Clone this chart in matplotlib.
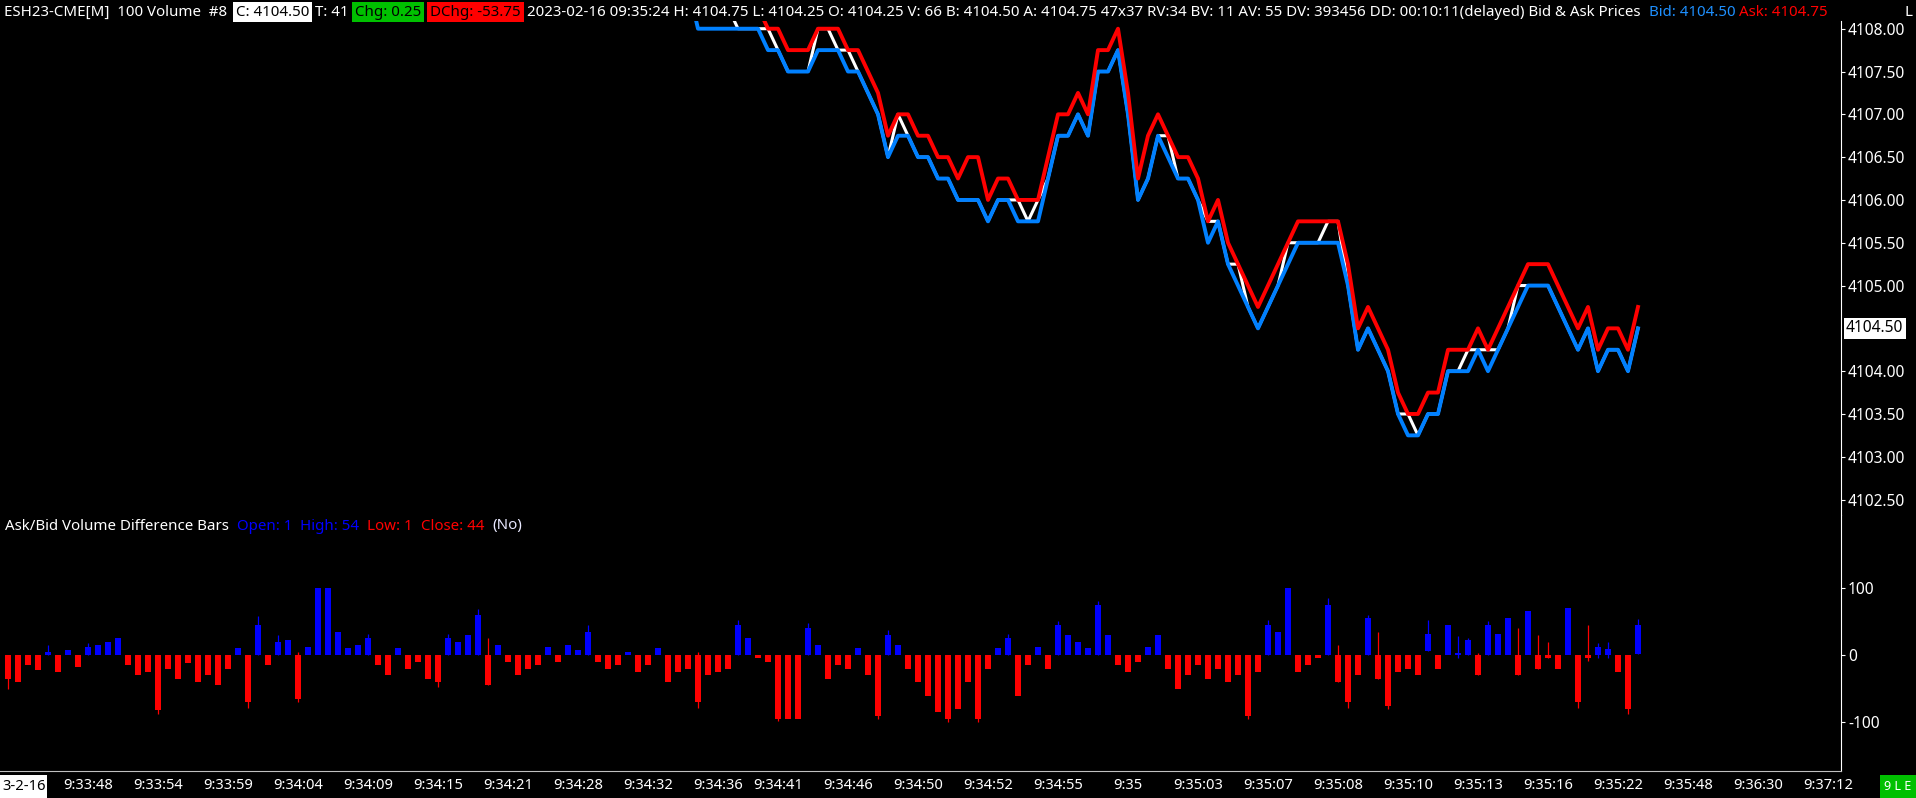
import matplotlib
matplotlib.use('Agg')
import matplotlib.pyplot as plt
from matplotlib.patches import Rectangle

W, H = 1916, 798
FONT = ['Noto Sans', 'DejaVu Sans']
BLUE_LINE = '#0080FF'

# ---------------- bid / ask / last (bars 68..163) ----------------
first_bar = 68
bid = [4108.50,
       4108.00, 4108.00, 4108.00, 4108.00, 4108.00, 4108.00, 4108.00,
       4107.75, 4107.75, 4107.50, 4107.50, 4107.50, 4107.75, 4107.75, 4107.75,
       4107.50, 4107.50, 4107.25, 4107.00, 4106.50, 4106.75, 4106.75, 4106.50,
       4106.50, 4106.25, 4106.25, 4106.00, 4106.00, 4106.00, 4105.75, 4106.00,
       4106.00, 4105.75, 4105.75, 4105.75, 4106.25, 4106.75, 4106.75, 4107.00,
       4106.75, 4107.50, 4107.50, 4107.75, 4107.00, 4106.00, 4106.25, 4106.75,
       4106.50, 4106.25, 4106.25, 4106.00, 4105.50, 4105.75, 4105.25, 4105.00,
       4104.75, 4104.50, 4104.75, 4105.00, 4105.25, 4105.50, 4105.50, 4105.50,
       4105.50, 4105.50, 4105.00, 4104.25, 4104.50, 4104.25, 4104.00, 4103.50,
       4103.25, 4103.25, 4103.50, 4103.50, 4104.00, 4104.00, 4104.00, 4104.25,
       4104.00, 4104.25, 4104.50, 4104.75, 4105.00, 4105.00, 4105.00, 4104.75,
       4104.50, 4104.25, 4104.50, 4104.00, 4104.25, 4104.25, 4104.00, 4104.50]
ask = [4108.75,
       4108.25, 4108.25, 4108.25, 4108.25, 4108.25, 4108.25, 4108.25,
       4108.00, 4108.00, 4107.75, 4107.75, 4107.75, 4108.00, 4108.00, 4108.00,
       4107.75, 4107.75, 4107.50, 4107.25, 4106.75, 4107.00, 4107.00, 4106.75,
       4106.75, 4106.50, 4106.50, 4106.25, 4106.50, 4106.50, 4106.00, 4106.25,
       4106.25, 4106.00, 4106.00, 4106.00, 4106.50, 4107.00, 4107.00, 4107.25,
       4107.00, 4107.75, 4107.75, 4108.00, 4107.25, 4106.25, 4106.75, 4107.00,
       4106.75, 4106.50, 4106.50, 4106.25, 4105.75, 4106.00, 4105.50, 4105.25,
       4105.00, 4104.75, 4105.00, 4105.25, 4105.50, 4105.75, 4105.75, 4105.75,
       4105.75, 4105.75, 4105.25, 4104.50, 4104.75, 4104.50, 4104.25, 4103.75,
       4103.50, 4103.50, 4103.75, 4103.75, 4104.25, 4104.25, 4104.25, 4104.50,
       4104.25, 4104.50, 4104.75, 4105.00, 4105.25, 4105.25, 4105.25, 4105.00,
       4104.75, 4104.50, 4104.75, 4104.25, 4104.50, 4104.50, 4104.25, 4104.75]
last = [4108.50,
        4108.25, 4108.25, 4108.25, 4108.25, 4108.00, 4108.00, 4108.00,
        4108.00, 4107.75, 4107.50, 4107.50, 4107.50, 4108.00, 4108.00, 4107.75,
        4107.75, 4107.50, 4107.25, 4107.00, 4106.50, 4107.00, 4106.75, 4106.50,
        4106.50, 4106.25, 4106.25, 4106.00, 4106.00, 4106.00, 4105.75, 4106.00,
        4106.00, 4106.00, 4105.75, 4106.00, 4106.25, 4106.75, 4106.75, 4107.00,
        4106.75, 4107.50, 4107.50, 4107.75, 4107.00, 4106.00, 4106.25, 4106.75,
        4106.75, 4106.25, 4106.25, 4106.00, 4105.75, 4105.75, 4105.25, 4105.25,
        4104.75, 4104.50, 4104.75, 4105.00, 4105.50, 4105.50, 4105.50, 4105.50,
        4105.75, 4105.75, 4105.00, 4104.25, 4104.50, 4104.25, 4104.00, 4103.50,
        4103.50, 4103.25, 4103.50, 4103.50, 4104.00, 4104.00, 4104.25, 4104.25,
        4104.25, 4104.25, 4104.50, 4105.00, 4105.00, 4105.00, 4105.00, 4104.75,
        4104.50, 4104.25, 4104.50, 4104.00, 4104.25, 4104.25, 4104.00, 4104.50]

price_ticks = [4108.0, 4107.5, 4107.0, 4106.5, 4106.0, 4105.5, 4105.0,
               4104.0, 4103.5, 4103.0, 4102.5]
current_price = 4104.50

# ---------------- ask/bid volume difference bars (bars 0..163) ----------------
vol_close = [-35, -40, -15, -22, 5, -25, 8, -18, 12, 15, 20, 25, -15, -30, -25, -82,
             -20, -35, -12, -40, -30, -45, -20, 10, -70, 45, -15, 20, 22, -65, 12, 100,
             100, 35, 10, 15, 25, -15, -30, 10, -20, -10, -35, -40, 25, 20, 30, 60,
             -45, 15, -10, -30, -20, -15, 12, -10, 15, 8, 35, -10, -20, -15, 5, -25,
             -15, 10, -40, -25, -20, -70, -30, -25, -20, 45, 25, -5, -10, -95, -95, -95,
             40, 15, -35, -15, -20, 10, -30, -90, 30, 15, -20, -40, -60, -85, -95, -80,
             -40, -95, -20, 10, 25, -60, -15, 12, -20, 45, 30, 20, 10, 75, 30, -15,
             -25, -10, 12, 30, -20, -50, -30, -15, -35, -20, -40, -30, -90, -25, 45, 35,
             100, -25, -15, -5, 75, -40, -70, -30, 55, -35, -75, -25, -20, -30, 32, -20,
             45, 3, 22, -30, 44, 32, 55, -30, 65, -20, -5, -20, 70, -70, -5, 12,
             9, -25, -80, 44]
vol_open = {142: 6, 163: 1}
vol_high = {4: 15, 8: 18, 25: 58, 27: 30, 29: 5, 36: 32, 44: 32, 47: 68, 48: 25,
            58: 45, 69: 5, 73: 52, 80: 48, 88: 38, 100: 32, 105: 50, 109: 80,
            126: 52, 128: 100, 132: 85, 133: 15, 136: 60, 137: 35, 142: 52, 145: 29,
            146: 26, 147: 3, 148: 50, 151: 40, 153: 30, 154: 20, 158: 45, 159: 18,
            160: 20, 163: 54}
vol_low = {0: -50, 15: -88, 24: -78, 29: -70, 43: -48, 69: -78, 77: -98, 87: -95,
           94: -100, 97: -100, 124: -95, 134: -78, 138: -80, 145: -5, 157: -78,
           158: -8, 159: -5, 160: -5, 162: -88}
vol_ticks = [100, 0, -100]

# ---------------- time scale ----------------
time_pos = [8, 15, 22, 29, 36, 43, 50, 57, 64, 71, 77, 84, 91, 98, 105, 112,
            119, 126, 133, 140, 147, 154, 161, 168, 175, 182]
time_lab = ['9:33:48', '9:33:54', '9:33:59', '9:34:04', '9:34:09', '9:34:15',
            '9:34:21', '9:34:28', '9:34:32', '9:34:36', '9:34:41', '9:34:46',
            '9:34:50', '9:34:52', '9:34:55', '9:35', '9:35:03', '9:35:07',
            '9:35:08', '9:35:10', '9:35:13', '9:35:16', '9:35:22', '9:35:48',
            '9:36:30', '9:37:12']

fig = plt.figure(figsize=(W / 100, H / 100), dpi=100, facecolor='black')
r = fig.canvas.get_renderer()


def fit_size(s, target_px):
    t = fig.text(0, 0, s, fontsize=10, family=FONT)
    w = t.get_window_extent(r).width
    t.remove()
    return 10 * target_px / w


def ftext(x, y, s, color='white', size=10, ha='left'):
    return fig.text(x / W, 1 - y / H, s, color=color, fontsize=size, ha=ha,
                    va='center', family=FONT, zorder=10)


def fbox(x0, x1, y0, y1, color):
    fig.add_artist(Rectangle((x0 / W, 1 - y1 / H), (x1 - x0) / W, (y1 - y0) / H,
                             transform=fig.transFigure, facecolor=color,
                             edgecolor='none', zorder=9))


def text_row(pieces, y, size, box=(2, 22), gap=5):
    # pieces: (start x, text, colour, background); shifted right if crowded
    cur = 0
    for x0, s, col, bg in pieces:
        x = max(x0, cur)
        pad = 3 if bg else 0
        t = ftext(x + pad, y, s, col, size)
        w = t.get_window_extent(r).width
        if bg:
            fbox(x, x + w + 2 * pad, box[0], box[1], bg)
        cur = x + w + 2 * pad + gap


xl = (-0.8, 183.3)
axp = fig.add_axes([0, 1 - 515 / H, 1841 / W, 494 / H])
axv = fig.add_axes([0, 1 - 771 / H, 1841 / W, 256 / H])
lab_size = fit_size('4108.00', 57)
for ax in (axp, axv):
    ax.set_facecolor('black')
    ax.set_xlim(*xl)
    for s in ('top', 'left', 'bottom'):
        ax.spines[s].set_visible(False)
    ax.spines['right'].set_color('white')
    ax.yaxis.tick_right()
    ax.tick_params(axis='y', colors='white', length=3, width=0.8, pad=2,
                   labelsize=lab_size)
    ax.tick_params(axis='x', bottom=False, labelbottom=False)
axv.spines['bottom'].set_visible(True)
axv.spines['bottom'].set_color('#C0C0C0')

# price panel
ks = list(range(first_bar, first_bar + len(bid)))
axp.plot(ks, last, color='white', lw=2.2, zorder=2)
axp.plot(ks, bid, color=BLUE_LINE, lw=2.8, zorder=3)
axp.plot(ks, ask, color='#FF0000', lw=2.8, zorder=4)
axp.set_ylim(4102.32, 4108.09)
axp.set_yticks(price_ticks)
axp.set_yticklabels(['%.2f' % p for p in price_ticks], family=FONT)
axp.annotate('%.2f' % current_price, xy=(1.0, current_price),
             xycoords=('axes fraction', 'data'), xytext=(5, 0),
             textcoords='offset pixels', va='center', ha='left', color='black',
             fontsize=lab_size, family=FONT, annotation_clip=False,
             bbox=dict(boxstyle='square,pad=0.15', facecolor='white',
                       edgecolor='none'))

# volume difference panel
n = len(vol_close)
idx = list(range(n))
opens = [vol_open.get(k, 0) for k in idx]
cols = ['#0000FF' if c >= o else '#FF0000' for c, o in zip(vol_close, opens)]
axv.bar(idx, [c - o for c, o in zip(vol_close, opens)], bottom=opens,
        width=0.68, color=cols, zorder=3)
for k in idx:
    o, c = opens[k], vol_close[k]
    hi = vol_high.get(k, max(o, c))
    lo = vol_low.get(k, min(o, c))
    if hi > max(o, c) or lo < min(o, c):
        axv.vlines(k, lo, hi, color=cols[k], lw=0.9, zorder=2)
axv.set_ylim(-172, 208)
axv.set_yticks(vol_ticks)
axv.set_yticklabels([str(v) for v in vol_ticks], family=FONT)

# time labels
tsize = fit_size('9:33:48', 50)
for p, s in zip(time_pos, time_lab):
    t = axv.text(p, 0, s, transform=axv.get_xaxis_transform(), ha='center',
                 va='center', color='white', fontsize=tsize, family=FONT,
                 clip_on=False)
    t.set_y(-14.5 / 256)
fbox(0, 47, 775, 798, 'white')
ftext(2, 786, '3-2-16', color='black', size=tsize)
fbox(1880, 1916, 775, 798, '#00C000')
ftext(1898, 786, '9 L E', color='white', size=tsize * 0.85, ha='center')

# header
long_txt = ('2023-02-16 09:35:24 H: 4104.75 L: 4104.25 O: 4104.25 V: 66 '
            'B: 4104.50 A: 4104.75 47x37 RV:34 BV: 11 AV: 55 DV: 393456 '
            'DD: 00:10:11(delayed) Bid & Ask Prices')
hs = fit_size(long_txt, 1110)
text_row([(4, 'ESH23-CME[M]  100 Volume  #8', 'white', None),
          (233, 'C: 4104.50', 'black', 'white'),
          (314, 'T: 41', 'white', None),
          (349, 'Chg: 0.25', 'black', '#00C000'),
          (418, 'DChg: -53.75', 'black', '#FF0000'),
          (516, long_txt, 'white', None),
          (1649, 'Bid: 4104.50', '#1E90FF', None),
          (1737, 'Ask: 4104.75', '#FF0000', None),
          (1905, 'L', 'white', None)], 12, hs, gap=3)

# volume study title
text_row([(5, 'Ask/Bid Volume Difference Bars', 'white', None),
          (233, 'Open: 1', '#0000FF', None),
          (295, 'High: 54', '#0000FF', None),
          (363, 'Low: 1', '#FF0000', None),
          (415, 'Close: 44', '#FF0000', None),
          (490, '(No)', '#E8E8FF', None)], 526, hs, gap=8)

fig.savefig('out.png', dpi=100, facecolor='black')
